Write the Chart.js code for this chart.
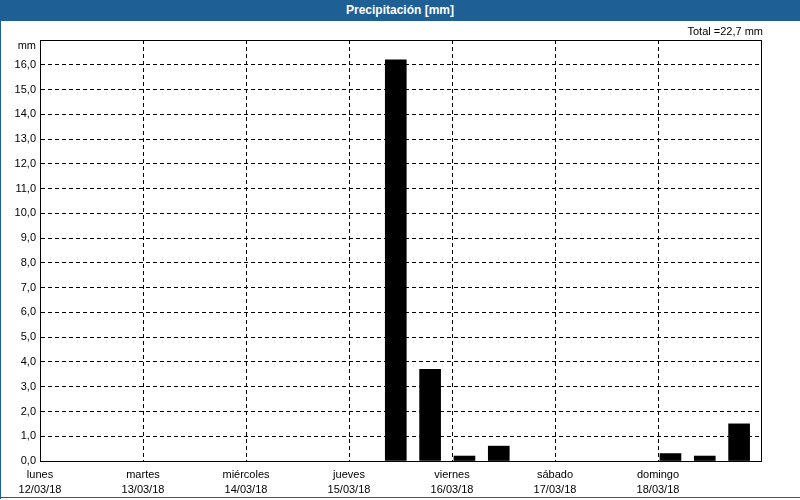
<!DOCTYPE html>
<html>
<head>
<meta charset="utf-8">
<script src="https://cdn.jsdelivr.net/npm/chart.js@4.4.1/dist/chart.umd.min.js"></script>
<style>
  body { margin: 0; background: #fff; }
  #wrap { position: relative; width: 800px; height: 500px; overflow: hidden; background: #fff; }
  #head { position: absolute; left: 0; top: 0; width: 800px; height: 21px; background: #1e6096;
          color: #fff; font: bold 12px "Liberation Sans", Arial, sans-serif; text-align: center; line-height: 20px; }
  #myChart { position: absolute; left: 0; top: 21px; }
  .edge { position: absolute; background: #1e6096; }
</style>
</head>
<body>
<div id="wrap">
  <div id="head">Precipitación [mm]</div>
  <canvas id="myChart" width="800" height="477"></canvas>
  <div class="edge" style="left:0;top:0;width:1px;height:499px"></div>
  <div class="edge" style="left:0;top:497px;width:800px;height:1px"></div>
</div>
<script>
// dias de la semana y fechas (etiquetas del eje x)
const dayNames = ['lunes', 'martes', 'miércoles', 'jueves', 'viernes', 'sábado', 'domingo'];
const dayDates = ['12/03/18', '13/03/18', '14/03/18', '15/03/18', '16/03/18', '17/03/18', '18/03/18'];

// precipitacion por periodos de 8 horas (0-8, 8-16, 16-24) de cada dia
const binHours = [0, 8, 16];
const rainLunes     = [0, 0, 0];
const rainMartes    = [0, 0, 0];
const rainMiercoles = [0, 0, 0];
const rainJueves    = [0, 16.2, 3.7];
const rainViernes   = [0.2, 0.6, 0];
const rainSabado    = [0, 0, 0];
const rainDomingo   = [0.3, 0.2, 1.5];

const totalText = 'Total =22,7 mm';
const yUnit = 'mm';

const week = [rainLunes, rainMartes, rainMiercoles, rainJueves, rainViernes, rainSabado, rainDomingo];
const points = [];
week.forEach((day, d) => {
  day.forEach((v, b) => {
    if (v > 0) { // sin barra cuando no llueve
      // barras alineadas al inicio del periodo
      points.push({ x: d * 24 + binHours[b] + 2.9, y: v });
    }
  });
});

const FONT = '"Liberation Sans", Arial, sans-serif';

const framePlugin = {
  id: 'frame',
  afterDraw(chart) {
    const c = chart.ctx;
    const a = chart.chartArea;
    c.save();
    c.strokeStyle = '#000';
    c.lineWidth = 1;
    c.setLineDash([]);
    c.strokeRect(Math.round(a.left) + 0.5, Math.round(a.top) + 0.5,
                 Math.round(a.right - a.left), Math.round(a.bottom - a.top));
    c.fillStyle = '#000';
    c.font = '11px ' + FONT;
    c.textAlign = 'right';
    c.textBaseline = 'middle';
    c.fillText(yUnit, 36, a.top + 6);
    c.fillText(totalText, 763, 11);
    c.restore();
  }
};

const ctx = document.getElementById('myChart').getContext('2d');
const myChart = new Chart(ctx, {
  type: 'bar',
  data: {
    datasets: [{
      data: points,
      backgroundColor: '#000',
      barThickness: 21
    }]
  },
  options: {
    responsive: false,
    animation: false,
    devicePixelRatio: 1,
    layout: { padding: { top: 19, right: 39, left: 0, bottom: 0 } },
    plugins: { legend: { display: false }, tooltip: { enabled: false } },
    scales: {
      x: {
        type: 'linear',
        min: 0,
        max: 168,
        offset: false,
        afterFit: s => { s.height = 37; },
        border: { display: true, color: '#000', dash: [4, 3] },
        grid: { offset: false, color: '#000', drawTicks: false },
        ticks: {
          stepSize: 24,
          autoSkip: false,
          maxRotation: 0,
          padding: 6,
          color: '#000',
          font: { family: FONT, size: 11, lineHeight: '15px' },
          callback: v => {
            const i = v / 24;
            return i < 7 ? [dayNames[i], dayDates[i]] : '';
          }
        }
      },
      y: {
        min: 0,
        max: 17,
        afterFit: s => { s.width = 40; },
        border: { display: true, color: '#000', dash: [4, 3] },
        grid: { color: '#000', drawTicks: false },
        ticks: {
          stepSize: 1,
          padding: 4,
          color: '#000',
          font: { family: FONT, size: 11 },
          callback: v => v === 17 ? '' : v.toFixed(1).replace('.', ',')
        }
      }
    }
  },
  plugins: [framePlugin]
});
</script>
</body>
</html>
